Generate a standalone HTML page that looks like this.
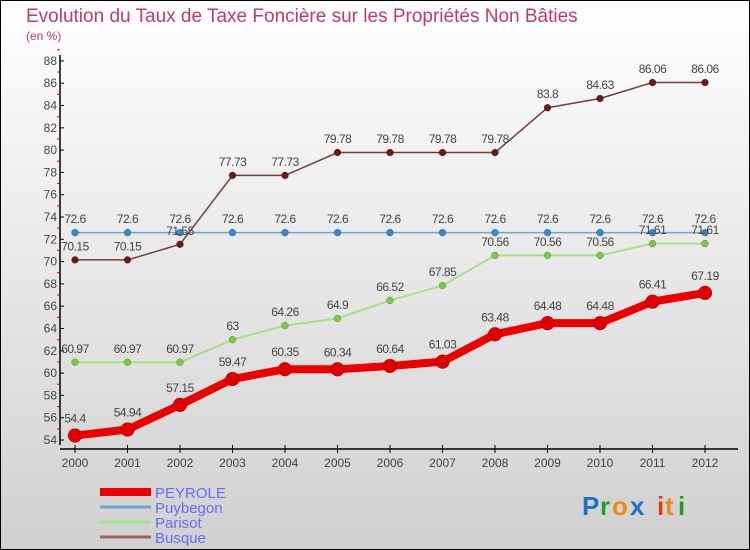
<!DOCTYPE html>
<html><head><meta charset="utf-8"><style>
body{margin:0}
#c{width:750px;height:550px;position:relative;box-sizing:border-box;border:1px solid #000;background:linear-gradient(#ffffff,#d0d0d0);font-family:"Liberation Sans",sans-serif;overflow:hidden}
</style></head><body>
<div id="c">
<svg id="s" width="750" height="550" style="position:absolute;left:-1px;top:-1px" font-family="Liberation Sans, sans-serif">
<text x="26" y="22" font-size="19" fill="#c03a6a">Evolution du Taux de Taxe Foncière sur les Propriétés Non Bâties</text>
<text x="26" y="40" font-size="12" fill="#c03a6a">(en %)</text>
<g id="g"></g>
<g font-size="26" font-weight="bold">
<text x="582" y="515" fill="#1a73c8">P</text><text x="600" y="515" fill="#2a9a2a">r</text><text x="612" y="515" fill="#f08a10">o</text><text x="630" y="515" fill="#1a73c8">x</text><text x="657" y="515" fill="#e83a10">i</text><text x="665" y="515" fill="#f08a10">t</text><text x="678" y="515" fill="#2a9a2a">i</text>
</g>
</svg>
</div>
<script>
const years=["2000","2001","2002","2003","2004","2005","2006","2007","2008","2009","2010","2011","2012"];
const peyrole=[54.4,54.94,57.15,59.47,60.35,60.34,60.64,61.03,63.48,64.48,64.48,66.41,67.19];
const puybegon=[72.6,72.6,72.6,72.6,72.6,72.6,72.6,72.6,72.6,72.6,72.6,72.6,72.6];
const parisot=[60.97,60.97,60.97,63,64.26,64.9,66.52,67.85,70.56,70.56,70.56,71.61,71.61];
const busque=[70.15,70.15,71.55,77.73,77.73,79.78,79.78,79.78,79.78,83.8,84.63,86.06,86.06];
const yTicks=[54,56,58,60,62,64,66,68,70,72,74,76,78,80,82,84,86,88];
const NS="http://www.w3.org/2000/svg";
const g=document.getElementById('g');
const X=i=>75+i*52.5;
const Y=v=>440-(v-54)*11.15;
function el(t,a,p){const e=document.createElementNS(NS,t);for(const k in a)e.setAttribute(k,a[k]);(p||g).appendChild(e);return e;}
function fmt(v){return String(v);}
// axes
let ax=el('line',{x1:60,y1:55,x2:60,y2:445,stroke:'#000','stroke-width':1.5});


let bx=el('line',{x1:60,y1:449,x2:738,y2:449,stroke:'#000','stroke-width':1.5});


yTicks.forEach(v=>{
  el('line',{x1:60,y1:Y(v),x2:64,y2:Y(v),stroke:'#000'});
  el('line',{x1:57,y1:Y(v+1),x2:60,y2:Y(v+1),stroke:'#e00'});
  const t=el('text',{x:57,y:Y(v)+4,'font-size':12,fill:'#444','text-anchor':'end'});
  t.textContent=v;
  
  
});
years.forEach((yr,i)=>{
  el('line',{x1:X(i),y1:445,x2:X(i),y2:453,stroke:'#000'});
  const t=el('text',{x:X(i),y:467,'font-size':12,fill:'#444','text-anchor':'middle'});
  t.textContent=yr;
  
  
});
function series(arr,color,w,r,name,dot){
  const grp=el('g',{});
  
  
  el('polyline',{points:arr.map((v,i)=>X(i)+','+Y(v)).join(' '),fill:'none',stroke:color,'stroke-width':w,'stroke-linejoin':'round'},grp);
  arr.forEach((v,i)=>{
    const c=el('circle',{cx:X(i),cy:Y(v),r:r,fill:dot,stroke:'rgba(0,0,0,0.3)','stroke-width':0.5},grp);
    
    
    const t=el('text',{x:X(i),y:Y(v)-(r+6),'font-size':12,fill:'#444','text-anchor':'middle','letter-spacing':'-0.5'},grp);
    t.textContent=fmt(v);
    
    
  });
}
series(puybegon,'#6fa6d0',1.5,3.5,'puybegon','#3a87c8');
series(parisot,'#a8e08a',2,3.5,'parisot','#7ac943');
series(busque,'#7a3a3a',1.5,3.5,'busque','#6a1a1a');
series(peyrole,'#ee0000',8,7,'peyrole','#e00000');
// legend
const leg=[['PEYROLE','#ee0000',8],['Puybegon','#6fa6d0',3],['Parisot','#a8e08a',3],['Busque','#a06060',3]];
leg.forEach((l,i)=>{
  const y=492+i*15;
  const grp=el('g',{});
  
  
  el('line',{x1:100,y1:y,x2:151,y2:y,stroke:l[1],'stroke-width':l[2]},grp);
  const t=el('text',{x:155,y:y+6,'font-size':15,fill:'#6a6aff'},grp);
  t.textContent=l[0];
});
</script>
</body></html>
